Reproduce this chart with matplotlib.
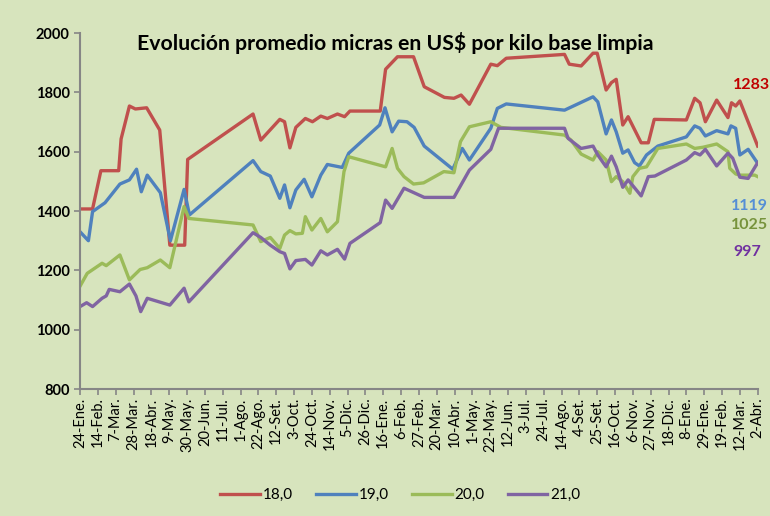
import matplotlib
matplotlib.use("Agg")
import matplotlib.pyplot as plt


# tick labels every 3 weeks, x axis counted in weeks from 24-Ene.
tick_labels = ['24-Ene.', '14-Feb.', '7-Mar.', '28-Mar.', '18-Abr.', '9-May.', '30-May.',
               '20-Jun.', '11-Jul.', '1-Ago.', '22-Ago.', '12-Set.', '3-Oct.', '24-Oct.',
               '14-Nov.', '5-Dic.', '26-Dic.', '16-Ene.', '6-Feb.', '27-Feb.', '20-Mar.',
               '10-Abr.', '1-May.', '22-May.', '12-Jun.', '3-Jul.', '24-Jul.', '14-Ago.',
               '4-Set.', '25-Set.', '16-Oct.', '6-Nov.', '27-Nov.', '18-Dic.', '8-Ene.',
               '29-Ene.', '19-Feb.', '12-Mar.', '2-Abr.']

# micra 18,0
weeks_18 = [0, 2.1, 3.5, 6.5, 6.9, 8.3, 9.3, 11.2, 13.4, 15.1, 17.6, 18.1, 29.1, 30.4, 33.6,
            34.4, 35.3, 36.3, 37.9, 39.1, 40.5, 41.6, 43.3, 44.5, 45.4, 50.5, 51.4, 53.4,
            56.1, 57.9, 61.3, 62.9, 64.1, 65.5, 69.1, 70.2, 71.7, 81.5, 82.3, 84.3, 86.3,
            87.0, 88.5, 89.4, 90.2, 91.3, 92.2, 94.4, 95.6, 96.6, 102, 103.4, 104.3, 105.2,
            107.1, 109, 109.6, 110.3, 111, 114]
price_18 = [1407, 1407, 1536, 1536, 1643, 1754, 1744, 1748, 1673, 1285, 1285, 1574, 1727,
            1639, 1709, 1701, 1613, 1682, 1712, 1701, 1720, 1712, 1727, 1718, 1737, 1737,
            1878, 1920, 1920, 1819, 1783, 1780, 1791, 1760, 1895, 1890, 1915, 1928, 1895,
            1889, 1932, 1932, 1808, 1833, 1844, 1690, 1718, 1630, 1630, 1709, 1707, 1780,
            1765, 1701, 1774, 1715, 1765, 1754, 1771, 1619]

# micra 19,0
weeks_19 = [0, 1.4, 2.1, 4.2, 6.7, 8.3, 9.5, 10.3, 11.3, 13.5, 15.2, 17.5, 18.4, 29.1, 30.4,
            32, 33.6, 34.4, 35.3, 36.3, 37.7, 39, 40.5, 41.6, 44.1, 45.2, 50.4, 51.3, 52.5,
            53.6, 55, 56.2, 57.9, 62.7, 64.3, 65.5, 69.1, 70.2, 71.7, 81.5, 86.3, 87.1,
            88.5, 89.4, 90.2, 91.3, 92.2, 93.3, 94.1, 95.3, 97.2, 102, 103.4, 104.3, 105.2,
            107.1, 109, 109.5, 110.3, 111, 112.4, 114]
price_19 = [1330, 1300, 1398, 1428, 1491, 1505, 1541, 1465, 1521, 1462, 1300, 1473, 1387,
            1570, 1533, 1518, 1443, 1488, 1411, 1471, 1507, 1448, 1521, 1557, 1547, 1595,
            1690, 1748, 1667, 1703, 1701, 1682, 1619, 1541, 1611, 1572, 1679, 1746, 1761,
            1740, 1785, 1768, 1660, 1707, 1667, 1595, 1606, 1563, 1552, 1589, 1619, 1650,
            1687, 1679, 1653, 1671, 1660, 1687, 1679, 1589, 1608, 1561]

# micra 20,0
weeks_20 = [0, 1.2, 3.7, 4.4, 6.7, 8.3, 10.1, 11.3, 13.5, 15.1, 17.5, 18.3, 29.1, 30.4, 32,
            33.6, 34.4, 35.3, 36.3, 37.4, 37.9, 39, 40.5, 41.6, 43.3, 44.4, 45.2, 51.4,
            52.5, 53.4, 54.5, 56.1, 57.8, 61.2, 62.9, 64, 65.5, 69.1, 70.8, 81.5, 82.6,
            84.3, 86.3, 87.1, 88.5, 89.4, 90.2, 91.3, 92.5, 93, 94.1, 95.3, 97.2, 102,
            103.4, 104.8, 107.1, 109, 109.3, 110.3, 111, 113.5, 114]
price_20 = [1147, 1190, 1224, 1216, 1252, 1168, 1203, 1209, 1235, 1209, 1415, 1375, 1353,
            1297, 1311, 1274, 1319, 1334, 1323, 1325, 1381, 1336, 1375, 1330, 1364, 1533,
            1583, 1549, 1611, 1544, 1516, 1491, 1495, 1533, 1529, 1634, 1684, 1701, 1682,
            1656, 1639, 1592, 1572, 1600, 1572, 1499, 1516, 1499, 1460, 1516, 1544, 1549,
            1611, 1626, 1611, 1615, 1626, 1600, 1544, 1525, 1521, 1521, 1516]

# micra 21,0
weeks_21 = [0, 1.1, 2.1, 3.7, 4.4, 4.9, 6.7, 8.3, 9.4, 10.2, 11.3, 15.1, 17.5, 18.3, 29.1,
            30.4, 32, 33.6, 34.4, 35.3, 36.3, 37.9, 39, 40.5, 41.6, 43.3, 44.5, 45.4, 50.5,
            51.4, 52.5, 54.5, 57.9, 62.9, 65.5, 69.1, 70.4, 81.5, 82.1, 84.3, 86.3, 87.1,
            88.5, 89.4, 90.2, 91.3, 92.2, 94.4, 95.6, 96.7, 102, 103.4, 104.3, 105.2, 107.1,
            109, 109.8, 111, 112.4, 114]
price_21 = [1078, 1091, 1078, 1106, 1114, 1136, 1128, 1154, 1114, 1061, 1106, 1083, 1140,
            1094, 1327, 1311, 1285, 1263, 1257, 1205, 1233, 1237, 1218, 1266, 1252, 1271,
            1238, 1291, 1361, 1437, 1409, 1477, 1446, 1446, 1538, 1608, 1679, 1679, 1645,
            1611, 1619, 1589, 1549, 1585, 1549, 1480, 1505, 1451, 1516, 1518, 1572, 1597,
            1589, 1608, 1552, 1595, 1578, 1514, 1510, 1563]

series_names = ['18,0', '19,0', '20,0', '21,0']
line_colors = ['#C0504D', '#4F81BD', '#9BBB59', '#8064A2']

# values written at the right edge of the chart
side_values = ['1283', '1119', '1025', '997']
side_colors = ['#C00000', '#558ED5', '#77933C', '#7030A0']
side_heights = [1825, 1417, 1353, 1262]
side_x = [0.991, 0.988, 0.988, 0.985]


def main():
    plt.rcParams['font.family'] = ['Lato', 'DejaVu Sans']
    bg = '#D7E4BD'

    fig = plt.figure(figsize=(7.7, 5.16), dpi=100, facecolor=bg)
    ax = fig.add_axes([0.104, 0.246, 0.88, 0.69], facecolor=bg)

    all_weeks = [weeks_18, weeks_19, weeks_20, weeks_21]
    all_prices = [price_18, price_19, price_20, price_21]
    for w, p, name, col in zip(all_weeks, all_prices, series_names, line_colors):
        ax.plot(w, p, color=col, lw=2.4, label=name, solid_joinstyle='round')

    ax.set_xlim(0, 114)
    ax.set_ylim(800, 2000)
    ax.set_yticks(range(800, 2001, 200))
    ax.set_yticklabels([str(v) for v in range(800, 2001, 200)], fontweight='bold', fontsize=10.5)
    ax.set_xticks([3 * i for i in range(len(tick_labels))])
    ax.set_xticklabels(tick_labels, rotation=90, fontsize=10.5)

    for side in ['top', 'right']:
        ax.spines[side].set_visible(False)
    for side in ['left', 'bottom']:
        ax.spines[side].set_color('#868686')
        ax.spines[side].set_linewidth(1.5)
    ax.tick_params(axis='both', colors='#868686', labelcolor='black', length=4, width=1.2)
    ax.tick_params(axis='x', pad=2)

    ax.text(0.465, 0.972, 'Evolución promedio micras en US$ por kilo base limpia',
            fontsize=15.3, fontweight='bold', ha='center', va='center', transform=ax.transAxes)

    for txt, col, h, xs in zip(side_values, side_colors, side_heights, side_x):
        ax.text(xs, h, txt, color=col, fontsize=11.5, fontweight='bold', ha='center',
                va='center', transform=ax.get_yaxis_transform(), clip_on=False)

    fig.legend(loc='lower center', bbox_to_anchor=(0.52, 0.0), ncol=4, frameon=False,
               fontsize=11, handlelength=2.6, handletextpad=0.2, columnspacing=1.5)

    fig.savefig('out.png', dpi=100, facecolor=bg)


if __name__ == "__main__":
    main()
